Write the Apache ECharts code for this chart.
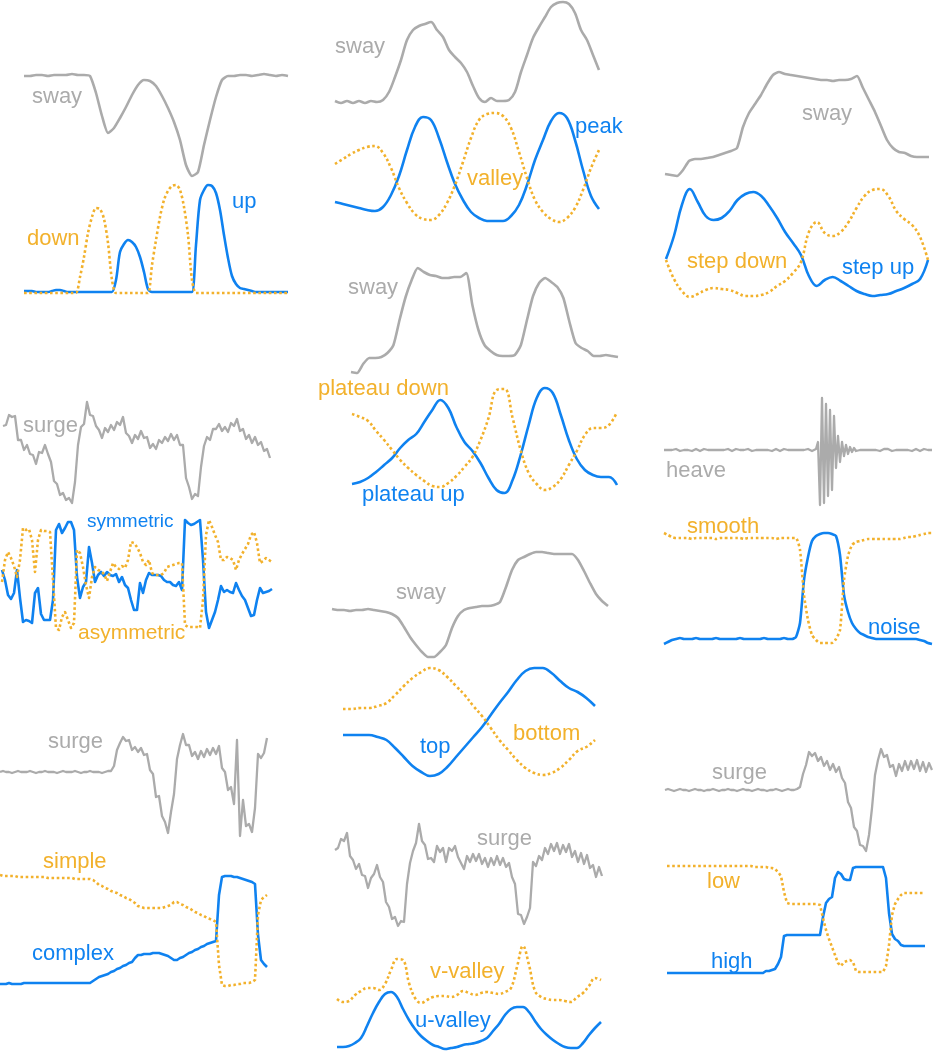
<!DOCTYPE html>
<html><head><meta charset="utf-8">
<script src="https://cdn.jsdelivr.net/npm/echarts@6/dist/echarts.min.js"></script>
<style>html,body{margin:0;padding:0;background:#fff}#c{width:933px;height:1051px}</style>
</head><body><div id="c"></div>
<script>
// ---------------- DATA (heights above each panel's baseline, uniformly sampled) ----------------
// Panel A: sway / down / up
const aSway = [104,104,105,105,104,105,105,105,106,105,105,104,87,64,47,52,62,73,85,95,100,99,94,84,72,58,40,15,4,8,35,60,83,100,104,104,105,105,104,105,106,105,104,105,104];
const aUp = [4,4,4,3,3,3,3,4,5,5,4,3,3,3,3,3,3,3,3,3,3,3,3,15,43,51,55,53,48,38,23,6,3,3,3,3,3,3,3,3,3,3,3,50,95,105,110,109,102,85,60,37,19,11,7,6,5,4,3,3,3,3,3,3,3,3,3];
const aDown = [2,2,2,2,2,2,2,2,2,2,2,2,2,2,18,38,62,78,87,86,76,52,15,2,2,2,2,2,2,2,2,2,30,55,78,95,104,109,110,105,88,60,15,2,2,2,2,2,2,2,2,2,2,2,2,2,2,2,2,2,2,2,2,2,2,2,2];
// Panel D: sway / peak / valley
const dSway = [4,2,4,2,4,2,4,3,5,13,28,45,65,75,79,81,83,75,68,55,48,42,33,19,7,3,7,4,4,5,13,33,50,67,78,88,98,102,103,101,92,75,65,50,35];
const dPeak = [23,21,19,17,15,14,18,30,49,75,98,108,105,87,63,41,25,13,7,4,4,4,9,20,40,65,85,104,112,107,85,55,29,16];
const dValley = [61,66,71,75,78,79,72,57,37,22,11,6,5,10,22,40,63,87,105,111,112,109,97,73,47,25,13,6,3,7,17,35,57,75];
// Panel H: sway / step up / step down
const hSway = [6,5,4,10,19,21,21,22,23,25,27,29,32,53,67,76,85,96,105,108,106,105,104,103,102,101,100,100,99,100,100,101,104,92,80,68,54,40,32,28,27,24,23,23,23];
const hStepUp = [41,64,95,111,98,84,80,82,89,100,106,108,104,94,82,68,57,45,24,14,20,23,19,14,9,6,4,5,6,9,12,16,21,40];
const hStepDown = [40,21,9,3,6,10,12,11,10,7,4,4,5,8,14,19,27,38,68,78,67,64,68,78,92,104,110,111,104,89,81,75,63,40];
// Panel E: sway / plateau up / plateau down
const eSway = [6,5,14,20,20,21,25,33,58,81,98,110,106,103,102,100,100,101,101,105,73,48,33,27,23,22,22,23,33,58,82,95,100,96,91,80,56,35,30,27,22,22,23,22,21];
const ePlatUp = [13,15,19,25,32,39,49,57,63,75,87,97,89,70,55,46,34,19,7,4,17,42,72,99,109,104,82,57,38,27,22,20,20,12];
const ePlatDown = [83,80,76,66,57,47,37,29,22,16,11,10,14,21,30,40,57,79,107,108,79,47,24,13,7,10,18,32,46,62,69,69,72,85];
// Panel B: surge / symmetric / asymmetric
const bSurge = [82,83,93,91,92,68,68,58,63,54,53,44,56,55,63,54,46,27,24,13,15,8,10,5,26,63,81,84,106,93,92,82,78,70,80,76,83,78,86,83,91,75,72,65,73,69,77,70,71,60,64,59,68,65,71,67,74,68,73,63,63,30,21,9,14,12,41,62,71,68,79,79,84,77,81,76,85,82,89,77,79,69,73,65,71,63,66,57,59,50];
const bSym = [65,55,40,36,42,65,37,13,15,14,12,42,47,21,15,15,15,35,105,111,102,107,113,113,105,58,37,48,53,88,72,53,60,63,59,63,60,59,61,53,58,50,47,35,25,25,52,42,55,62,60,60,60,59,55,53,53,50,49,53,45,115,112,110,111,113,115,75,23,7,15,23,35,49,43,45,43,42,52,45,39,35,27,19,20,35,47,42,43,44,46];
const bAsym = [53,75,83,77,69,58,75,107,105,106,95,63,95,105,104,104,103,55,7,5,18,23,15,7,12,85,82,68,50,37,58,68,65,64,61,54,63,72,68,66,69,67,75,93,92,88,82,73,70,75,62,60,60,60,62,68,69,70,71,72,72,10,8,8,8,8,7,35,100,115,108,100,93,75,75,78,77,75,65,75,81,86,91,100,103,92,72,74,77,75,73];
// Panel I: heave / smooth / noise
const iHeave = [58,59,58,57,58,59,59,58,57,58,58,59,58,58,57,58,59,58,57,58,59,58,58,57,58,59,58,59,58,57,58,58,59,58,57,58,59,58,58,57,58,59,59,58,57,58,58,59,58,57,58,59,58,58,57,58,59,58,57,58,59,58,58,57,58,59,58,59,58,57,58,58,59,58,57,
  58,59,66,3,110,5,104,12,98,18,92,40,72,46,66,52,63,54,61,56,60,57,59,58,58,
  58,59,58,57,58,59,58,58,57,58,59,58,59,58,57,58,58,59,58,57,58,59,58,58,57,58,59,58,57,58,59,58,58,57,58];
const iSmooth = [115,113,111,110,110,110,110,109,110,110,110,110,110,109,110,110,110,110,110,110,109,110,110,110,110,110,110,110,109,110,110,110,110,110,98,53,28,13,8,5,5,5,5,9,18,68,92,103,106,107,108,109,109,109,109,109,109,109,109,109,110,111,111,112,113,114,115,115];
const iNoise = [4,6,8,9,10,9,9,9,10,9,9,9,9,10,9,9,9,9,9,10,9,9,9,9,9,10,9,9,9,9,10,9,9,11,25,68,91,107,112,114,115,115,114,112,93,53,36,25,19,15,13,11,10,9,9,9,9,9,9,9,9,9,9,9,8,7,5,4];
// Panel F: sway / top / bottom
const fSway = [53,52,52,51,52,52,53,52,51,50,48,44,35,25,17,10,5,5,10,17,34,46,52,54,55,56,56,57,60,75,92,102,105,108,110,110,109,108,108,108,108,102,91,79,68,61,56];
const fTop = [45,45,45,45,43,40,32,23,14,8,4,6,13,23,33,43,53,65,77,88,100,109,112,112,107,99,92,88,82,74];
const fBottom = [71,71,72,72,74,77,85,94,102,108,112,110,103,94,85,74,64,52,40,30,20,12,7,5,7,12,20,29,33,40];
// Panel C: surge / complex / simple
const cSurge = [70,71,70,70,69,70,71,70,70,70,71,70,69,70,70,71,70,70,70,69,70,71,70,70,70,71,70,69,70,70,71,70,70,70,69,70,71,71,
  76,92,99,105,101,102,92,95,90,94,87,88,
  72,68,45,46,26,20,9,30,48,83,97,108,97,97,86,90,83,91,85,93,87,94,88,96,74,70,52,55,38,102,6,42,16,18,10,34,88,84,89,104];
const cComplex = [6,6,6,7,6,6,6,6,7,7,7,7,7,7,7,7,7,7,7,7,7,7,7,7,7,7,7,7,7,7,7,9,11,13,14,15,16,18,19,21,22,24,25,27,28,32,35,35,36,36,36,37,37,37,36,35,34,32,30,30,32,33,35,37,38,40,41,43,44,46,47,48,49,95,113,114,114,114,113,113,112,111,110,109,108,106,55,30,26,23];
const cSimple = [115,114,114,114,114,114,113,113,113,113,113,113,113,113,113,113,112,112,112,112,112,112,112,112,112,111,111,111,111,111,111,110,108,105,104,102,101,99,98,97,95,94,92,91,89,87,84,83,82,82,82,82,82,82,82,83,84,85,88,88,86,85,83,82,80,78,77,75,74,72,71,70,68,25,5,4,4,5,5,6,6,7,7,7,8,10,75,90,93,95];
// Panel G: surge / u-valley / v-valley
const gSurge = [80,82,91,89,97,74,70,61,66,55,54,42,52,56,65,53,48,28,23,11,13,4,9,8,46,67,79,87,106,89,85,71,72,68,84,78,82,68,82,79,84,73,67,61,74,68,76,69,76,66,72,63,72,65,74,65,72,63,67,53,46,16,15,6,13,22,68,64,74,70,82,76,86,79,87,76,85,78,86,73,79,68,77,66,75,62,65,53,63,54];
const gU = [4,4,5,8,13,25,38,49,57,59,54,42,31,22,15,10,6,4,2,3,4,6,7,8,10,13,20,27,36,42,44,44,39,30,22,16,11,7,4,3,3,8,16,23,29];
const gV = [52,49,50,56,60,63,63,61,67,81,92,91,68,53,48,51,54,55,55,54,56,60,58,56,58,59,58,57,59,63,84,105,86,60,54,52,51,51,50,49,54,58,65,73,71];
// Panel J: surge / high / low
const jSurge = [65,66,65,64,65,66,65,65,64,65,66,65,65,64,65,65,66,65,64,65,65,66,65,65,64,65,66,65,65,64,65,66,65,65,64,65,65,66,65,64,65,66,65,65,66,
  68,81,90,103,99,102,94,98,89,94,85,91,83,88,77,72,53,47,28,24,10,9,4,20,47,80,95,106,98,100,88,90,79,91,84,94,85,94,86,95,84,93,83,92,85];
const jHigh = [5,5,5,5,5,5,5,5,5,5,5,5,5,5,5,5,5,5,5,5,5,5,5,5,5,5,5,5,5,5,5,5,5,7,7,8,9,14,21,42,43,43,43,43,43,43,43,43,43,43,43,43,61,75,79,81,100,106,104,99,98,98,110,111,111,111,111,111,111,111,111,111,111,100,65,44,39,37,33,32,32,32,32,32,32,32,32];
const jLow = [112,112,112,112,112,112,112,112,112,112,112,112,112,112,112,112,112,112,112,112,112,112,112,112,112,112,112,112,112,111,111,111,111,111,110,110,109,106,102,86,75,74,74,74,74,74,74,74,74,74,74,73,60,48,39,31,23,15,12,16,17,18,16,7,6,6,6,6,6,6,6,6,6,12,33,63,74,79,83,85,85,85,85,85,85,85,85];

// ---------------- STYLE & LAYOUT ----------------
const GRAY = '#ababab', BLUE = '#0f82f0', ORANGE = '#f2b12c';
const FONT = '"Liberation Sans", Arial, Helvetica, sans-serif';
const STY = {
  gray:   {color: GRAY,   width: 2.6, type: 'solid', z: 1},
  grayN:  {color: GRAY,   width: 2.3, type: 'solid', z: 1},
  blue:   {color: BLUE,   width: 2.6, type: 'solid', z: 2},
  orange: {color: ORANGE, width: 2.6, type: [2.6, 2.6], z: 3}
};
// [data, style, smooth, box: x0, y0, x1, y1]
const lines = [
  [aSway, 'gray', 0.2, [24, 70, 288, 180]],
  [aUp, 'blue', 0.3, [24, 180, 288, 295]],
  [aDown, 'orange', 0.3, [24, 180, 288, 295]],
  [dSway, 'gray', 0.3, [335, 0, 599, 105]],
  [dPeak, 'blue', 0.4, [335, 108, 599, 225]],
  [dValley, 'orange', 0.4, [335, 108, 599, 225]],
  [hSway, 'gray', 0.2, [665, 68, 929, 180]],
  [hStepUp, 'blue', 0.4, [666, 180, 928, 300]],
  [hStepDown, 'orange', 0.4, [666, 180, 928, 300]],
  [eSway, 'gray', 0.2, [351, 262, 618, 378]],
  [ePlatUp, 'blue', 0.4, [352, 380, 617, 497]],
  [ePlatDown, 'orange', 0.4, [352, 380, 617, 497]],
  [bSurge, 'grayN', false, [3, 398, 270, 508]],
  [bSym, 'blue', false, [2, 515, 272, 635]],
  [bAsym, 'orange', false, [2, 515, 272, 635]],
  [iHeave, 'grayN', false, [664, 395, 932, 508]],
  [iNoise, 'blue', 0.2, [664, 525, 932, 648]],
  [iSmooth, 'orange', 0.2, [664, 525, 932, 648]],
  [fSway, 'gray', 0.2, [332, 548, 608, 662]],
  [fTop, 'blue', 0.4, [343, 664, 595, 780]],
  [fBottom, 'orange', 0.4, [343, 664, 595, 780]],
  [cSurge, 'grayN', false, [0, 735, 267, 842]],
  [cComplex, 'blue', false, [0, 872, 267, 990]],
  [cSimple, 'orange', false, [0, 872, 267, 990]],
  [gSurge, 'grayN', false, [335, 822, 602, 930]],
  [gU, 'blue', 0.4, [337, 940, 601, 1051]],
  [gV, 'orange', 0.4, [337, 940, 601, 1051]],
  [jSurge, 'grayN', false, [665, 745, 932, 855]],
  [jHigh, 'blue', false, [667, 860, 925, 978]],
  [jLow, 'orange', false, [667, 860, 925, 978]]
];
// [text, x, y(middle), colour, size]
const labels = [
  ['sway', 32, 97, GRAY, 22], ['down', 27, 238.5, ORANGE, 22], ['up', 232, 201.5, BLUE, 22],
  ['sway', 335, 47, GRAY, 22], ['peak', 575, 126.5, BLUE, 22], ['valley', 467, 178.5, ORANGE, 22],
  ['sway', 802, 113.5, GRAY, 22], ['step down', 687, 262, ORANGE, 22], ['step up', 842, 268, BLUE, 22],
  ['sway', 348, 288, GRAY, 22], ['plateau down', 318, 389, ORANGE, 22], ['plateau up', 362, 494.5, BLUE, 22],
  ['surge', 23, 426, GRAY, 22], ['symmetric', 87, 522, BLUE, 19], ['asymmetric', 78, 633.5, ORANGE, 21],
  ['heave', 666, 470.5, GRAY, 22], ['smooth', 687, 527, ORANGE, 22], ['noise', 868, 628, BLUE, 22],
  ['sway', 396, 593, GRAY, 22], ['top', 420, 747, BLUE, 22], ['bottom', 513, 733.5, ORANGE, 22],
  ['surge', 48, 742, GRAY, 22], ['simple', 43, 861.5, ORANGE, 22], ['complex', 32, 953.5, BLUE, 22],
  ['surge', 477, 838.5, GRAY, 22], ['v-valley', 430, 972, ORANGE, 22], ['u-valley', 415, 1020.5, BLUE, 22],
  ['surge', 712, 772.5, GRAY, 22], ['low', 707, 882, ORANGE, 22], ['high', 711, 962, BLUE, 22]
];

// ---------------- BUILD ----------------
const grid = [], xAxis = [], yAxis = [], series = [];
lines.forEach(([arr, sk, sm, box], gi) => {
  const [x0, y0, x1, y1] = box;
  grid.push({left: x0, top: y0, width: x1 - x0, height: y1 - y0, containLabel: false});
  xAxis.push({type: 'value', gridIndex: gi, min: 0, max: arr.length - 1, show: false});
  yAxis.push({type: 'value', gridIndex: gi, min: 0, max: y1 - y0, show: false});
  const s = STY[sk];
  series.push({
    type: 'line', xAxisIndex: gi, yAxisIndex: gi,
    data: arr.map((v, i) => [i, v]),
    showSymbol: false, symbol: 'none', clip: false, silent: true,
    smooth: sm, z: s.z,
    lineStyle: {color: s.color, width: s.width, type: s.type, cap: 'butt', join: 'round'}
  });
});
const graphic = labels.map(([t, x, y, c, fs]) => ({
  type: 'text', x: x, y: y, z: 10, silent: true,
  style: {text: t, fill: c, font: fs + 'px ' + FONT, textAlign: 'left', textVerticalAlign: 'middle', align: 'left', verticalAlign: 'middle'}
}));

const chart = echarts.init(document.getElementById('c'), null, {renderer: 'canvas'});
chart.setOption({animation: false, backgroundColor: '#ffffff', grid, xAxis, yAxis, series, graphic});
</script></body></html>
